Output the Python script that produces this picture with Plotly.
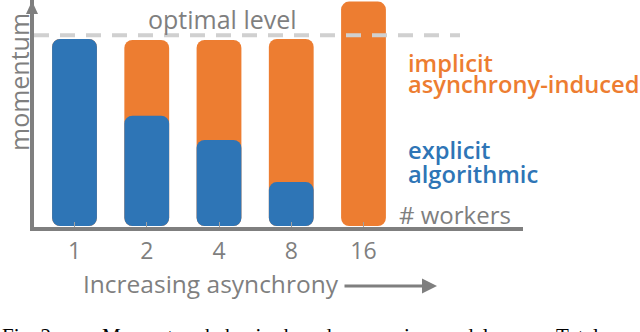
import plotly.graph_objects as go

# ---------------- data ----------------
workers = ["1", "2", "4", "8", "16"]
explicit = [1.0, 0.59, 0.46, 0.235, 0.0]        # explicit algorithmic momentum
implicit = [0.0, 0.405, 0.535, 0.765, 1.2]      # implicit asynchrony-induced momentum
optimal_level = 1.02
totals = [e + i for e, i in zip(explicit, implicit)]

BLUE = "#2E75B6"
ORANGE = "#ED7D31"
GRAY = "#7F7F7F"
DASH = "#D0D0D0"
FONT = "Open Sans"

# plot-area geometry (pixels)
L, T, W, H = 34, 0, 489, 227


def pxx(x):
    return (x - L) / W


def pxy(y):
    return (T + H - y) / H


fig = go.Figure()

# orange = total momentum (implicit part shows above the blue), blue = explicit part
fig.add_trace(go.Bar(x=workers, y=totals, base=[0] * len(workers),
                     marker=dict(color=ORANGE, line=dict(width=0)), width=0.62,
                     name="implicit", showlegend=False, hoverinfo="skip"))
fig.add_trace(go.Bar(x=workers, y=explicit, base=[0] * len(workers),
                     marker=dict(color=BLUE, line=dict(width=0)), width=0.62,
                     name="explicit", showlegend=False, hoverinfo="skip"))

# optimal level dashed line
fig.add_shape(type="line", xref="paper", yref="y", x0=0, x1=pxx(460),
              y0=optimal_level, y1=optimal_level, layer="above",
              line=dict(color=DASH, width=4, dash="15px,11px"))

# y axis arrowhead
fig.add_shape(type="path", xref="paper", yref="paper", xsizemode="pixel", ysizemode="pixel",
              xanchor=0, yanchor=1, path="M -8,-14 L -2,-1 L 4,-14 Z",
              fillcolor=GRAY, line=dict(width=0), layer="above")

ann = []


def text(s, x, y, size, color=GRAY, xanchor="left", weight=400, family=FONT, angle=0):
    ann.append(dict(text=s, x=pxx(x), y=pxy(y), xref="paper", yref="paper",
                    xanchor=xanchor, yanchor="middle", showarrow=False, textangle=angle,
                    font=dict(size=size, color=color, family=family, weight=weight)))


text("optimal level", 222, 19, 25, xanchor="center")
text("momentum", 19, 82, 25, xanchor="center", angle=-90)
text("implicit", 406, 63, 23.7, color=ORANGE, weight=600)
text("asynchrony-induced", 406, 84, 23.7, color=ORANGE, weight=600)
text("explicit", 406, 150, 23.7, color=BLUE, weight=600)
text("algorithmic", 406, 174, 23.7, color=BLUE, weight=600)
text("# workers", 397, 214, 24)
text("Increasing asynchrony", 81, 283, 24.5)
text("Fig. 2.", 0, 336, 21, color="black", family="Liberation Serif")
text("Momentum behavior based on queuing model.", 100, 336, 21, color="black", family="Liberation Serif")
text("Total mo-", 640, 336, 21, color="black", xanchor="right", family="Liberation Serif")

ann.append(dict(text="", x=pxx(437), y=pxy(286), xref="paper", yref="paper",
                showarrow=True, ax=-94, ay=0, arrowhead=2, arrowsize=1, arrowwidth=3,
                arrowcolor=GRAY))

ymin = -1 / 187
ymax = 226 / 187
xmin = -(74.5 - L) / 72.25
xmax = xmin + W / 72.25

fig.update_layout(
    width=640, height=332,
    margin=dict(l=L, r=640 - L - W, t=T, b=332 - T - H),
    paper_bgcolor="white", plot_bgcolor="white",
    barmode="overlay", barcornerradius=8,
    showlegend=False,
    annotations=ann,
    xaxis=dict(type="category", range=[xmin, xmax], showline=True, linewidth=4, linecolor=GRAY,
               ticks="inside", ticklen=5, tickwidth=1, tickcolor="#A0A0A0",
               showgrid=False, zeroline=False,
               tickfont=dict(size=23, color=GRAY, family=FONT)),
    yaxis=dict(range=[ymin, ymax], showline=True, linewidth=4, linecolor=GRAY,
               showticklabels=False, ticks="", showgrid=False, zeroline=False),
)

fig.write_html("out.html", config={"displayModeBar": False},
               post_script="document.body.style.margin='0px';")
